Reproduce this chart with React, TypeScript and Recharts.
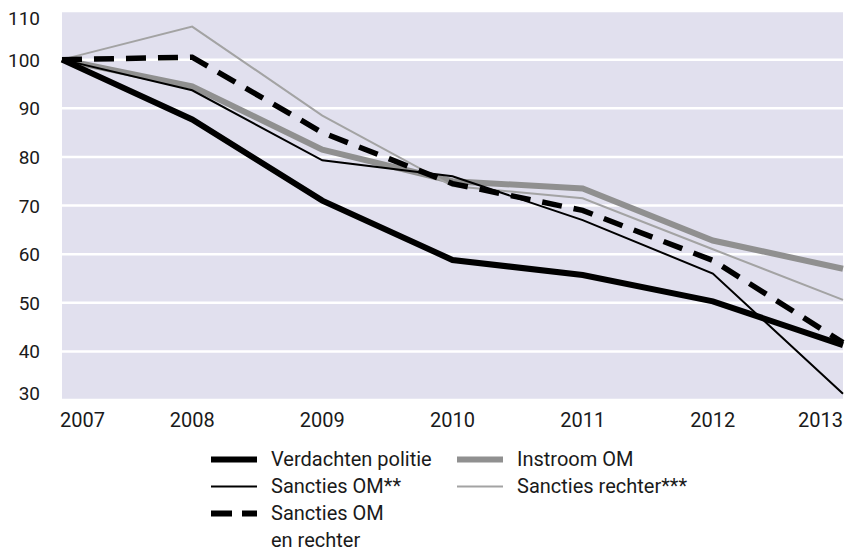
import { LineChart, Line, XAxis, YAxis, CartesianGrid } from "recharts";

const years = [2007, 2008, 2009, 2010, 2011, 2012, 2013];
const verdachtenPolitie = [100, 87.7, 71, 58.8, 55.7, 50.3, 41.3];
const sanctiesOM = [100, 93.7, 79.3, 76, 67, 56, 31.3];
const sanctiesOMenRechter = [100, 100.5, 85, 74.5, 69, 58.7, 41.8];
const instroomOM = [100, 94.5, 81.5, 75, 73.5, 62.8, 57];
const sanctiesRechter = [100, 106.8, 88.5, 74, 71.5, 61, 50.6];
const yTicks = [30, 40, 50, 60, 70, 80, 90, 100, 110];

const data = years.map((year, i) => ({
	year,
	verdachtenPolitie: verdachtenPolitie[i],
	sanctiesOM: sanctiesOM[i],
	sanctiesOMenRechter: sanctiesOMenRechter[i],
	instroomOM: instroomOM[i],
	sanctiesRechter: sanctiesRechter[i],
}));

const FONT = "Roboto, 'Liberation Sans', sans-serif";
const TEXT = "#1a1a1a";

const legendCols = [
	[
		{ label: ["Verdachten politie"], color: "#000", width: 6, dash: undefined },
		{ label: ["Sancties OM**"], color: "#000", width: 2, dash: undefined },
		{ label: ["Sancties OM", "en rechter"], color: "#000", width: 6, dash: "21 10" },
	],
	[
		{ label: ["Instroom OM"], color: "#909090", width: 6, dash: undefined },
		{ label: ["Sancties rechter***"], color: "#a3a3a3", width: 2, dash: undefined },
	],
];

function XTick(props: any) {
	const { x, y, payload, index } = props;
	const anchor = index === 0 ? "start" : index === years.length - 1 ? "end" : "middle";
	const dx = index === 0 ? -2 : 0;
	return (
		<text x={x + dx} y={y} dy={19} textAnchor={anchor} fontSize={20} fontFamily={FONT} fill={TEXT}>
			{payload.value}
		</text>
	);
}

function YTick(props: any) {
	const { x, y, payload } = props;
	let dy = 7;
	if (payload.value === 110) dy += 7;
	if (payload.value === 30) dy -= 7;
	return (
		<text x={x} y={y} dy={dy} textAnchor="end" fontSize={19} fontFamily={FONT} fill={TEXT}>
			{payload.value}
		</text>
	);
}

function LegendBox() {
	const colX = [211, 457];
	return (
		<div style={{ position: "absolute", left: 0, top: 446, width: 854, height: 110, fontFamily: FONT, fontSize: 20, color: TEXT }}>
			{legendCols.map((col, c) => {
				let row = 0;
				return col.map((item, i) => {
					const top = row * 27;
					row += item.label.length;
					return (
						<div key={c + "-" + i} style={{ position: "absolute", left: colX[c], top }}>
							<svg width={48} height={27} style={{ position: "absolute", left: 0, top: 0 }}>
								<line
									x1={0}
									x2={46}
									y1={13.5}
									y2={13.5}
									stroke={item.color}
									strokeWidth={item.width}
									strokeDasharray={item.dash}
								/>
							</svg>
							<div style={{ position: "absolute", left: 60, top: 0, whiteSpace: "nowrap", lineHeight: "27px" }}>
								{item.label.map((l) => (
									<div key={l}>{l}</div>
								))}
							</div>
						</div>
					);
				});
			})}
		</div>
	);
}

export default function App() {
	return (
		<div style={{ position: "absolute", left: 0, top: 0, width: 854, height: 552 }}>
			<LineChart width={854} height={552} data={data} margin={{ top: 11, right: 11, left: 0, bottom: 112 }}>
				<CartesianGrid vertical={false} stroke="#ffffff" strokeWidth={2.5} fill="#e1e0ee" fillOpacity={1} />
				<XAxis
					dataKey="year"
					type="number"
					domain={[2007, 2013]}
					ticks={years}
					axisLine={false}
					tickLine={false}
					tick={<XTick />}
					interval={0}
					height={40}
				/>
				<YAxis
					domain={[30, 110]}
					ticks={yTicks}
					axisLine={false}
					tickLine={false}
					tickSize={0}
					tickMargin={22}
					width={62}
					tick={<YTick />}
					interval={0}
				/>
				<Line dataKey="instroomOM" stroke="#909090" strokeWidth={6} dot={false} isAnimationActive={false} />
				<Line dataKey="sanctiesRechter" stroke="#a3a3a3" strokeWidth={2} dot={false} isAnimationActive={false} />
				<Line dataKey="verdachtenPolitie" stroke="#000000" strokeWidth={6} dot={false} isAnimationActive={false} />
				<Line dataKey="sanctiesOM" stroke="#000000" strokeWidth={2} dot={false} isAnimationActive={false} />
				<Line
					dataKey="sanctiesOMenRechter"
					stroke="#000000"
					strokeWidth={5.5}
					strokeDasharray="20 12"
					dot={false}
					isAnimationActive={false}
				/>
			</LineChart>
			<LegendBox />
		</div>
	);
}
